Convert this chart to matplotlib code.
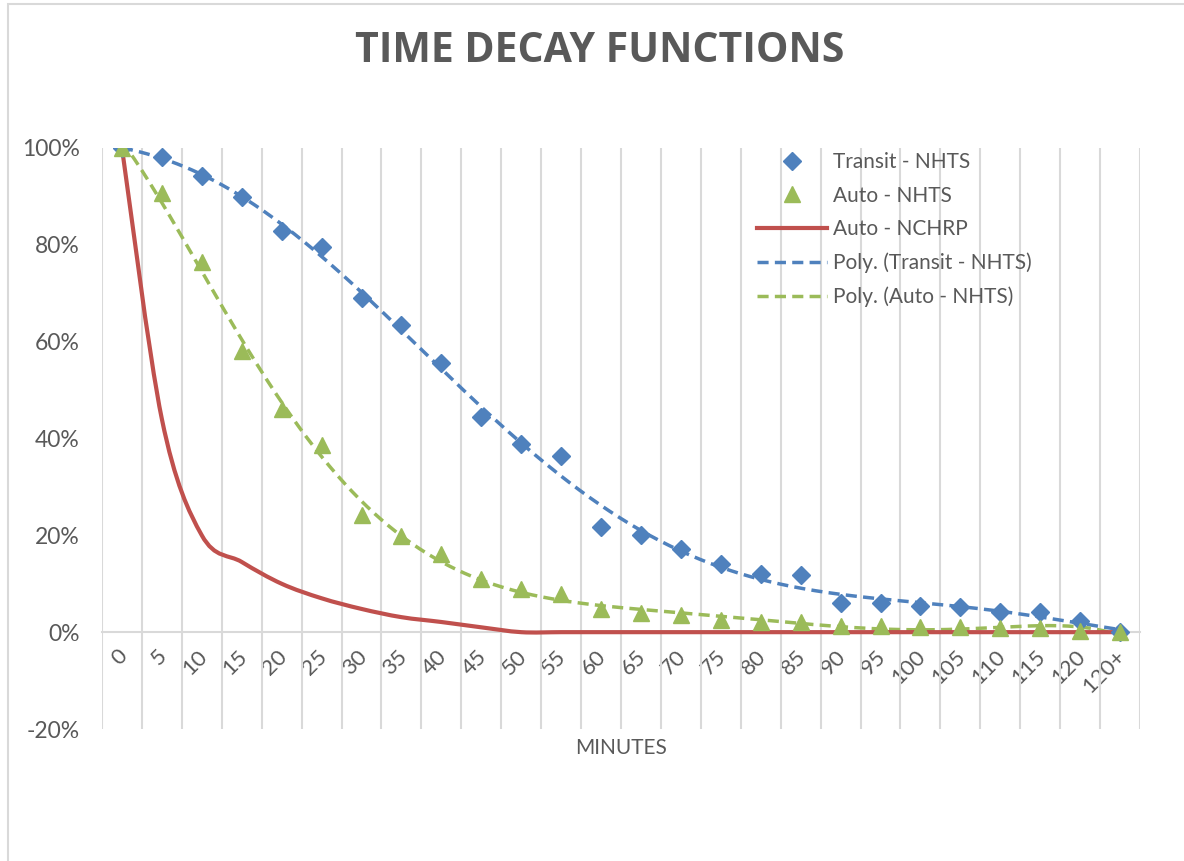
import numpy as np
import matplotlib
matplotlib.use("Agg")
import matplotlib.pyplot as plt
import matplotlib.transforms as mtransforms
from matplotlib.lines import Line2D
from matplotlib.path import Path
from matplotlib.patches import PathPatch, Rectangle

plt.rcParams['font.family'] = ['Lato', 'DejaVu Sans']

# categories (minutes)
minutes = ['0', '5', '10', '15', '20', '25', '30', '35', '40', '45', '50', '55', '60',
           '65', '70', '75', '80', '85', '90', '95', '100', '105', '110', '115', '120', '120+']

transit_nhts = [1.00, 0.982, 0.943, 0.899, 0.829, 0.795, 0.690, 0.634, 0.556, 0.444,
                0.388, 0.364, 0.217, 0.200, 0.172, 0.140, 0.121, 0.118, 0.060, 0.060,
                0.054, 0.051, 0.041, 0.041, 0.023, 0.0]

auto_nhts = [1.00, 0.907, 0.764, 0.581, 0.460, 0.387, 0.241, 0.198, 0.162, 0.110,
             0.090, 0.078, 0.047, 0.040, 0.035, 0.026, 0.022, 0.020, 0.013, 0.012,
             0.011, 0.010, 0.009, 0.008, 0.002, 0.0]

auto_nchrp = [1.00, 0.44, 0.20, 0.145, 0.10, 0.07, 0.048, 0.031, 0.021, 0.010,
              0.0, 0.0, 0.0, 0.0, 0.0, 0.0, 0.0, 0.0, 0.0, 0.0,
              0.0, 0.0, 0.0, 0.0, 0.0, 0.0]

yticks = [-0.2, 0.0, 0.2, 0.4, 0.6, 0.8, 1.0]

BLUE = '#4F81BD'
GREEN = '#9BBB59'
RED = '#C0504D'
GRID = '#D9D9D9'
TXT = '#595959'

W, H = 1184, 861
fig = plt.figure(figsize=(W / 100, H / 100), dpi=100)

# outer chart border (right and bottom edges fall outside the picture)
fig.patches.append(Rectangle((8 / W, -0.2), 1.2, 1.2 - 4 / H, transform=fig.transFigure,
                             fill=False, edgecolor=GRID, linewidth=1.5))

ax = fig.add_axes([102 / W, 1 - 729 / H, 1038 / W, 581 / H])
x = np.arange(len(minutes))

ax.set_xlim(-0.5, len(minutes) - 0.5)
ax.set_ylim(-0.2, 1.0)

# vertical gridlines between categories
ax.set_xticks(np.arange(-0.5, len(minutes), 1.0), minor=True)
ax.grid(True, which='minor', axis='x', color=GRID, linewidth=1.5)
ax.tick_params(which='minor', length=0)

for s in ['top', 'right', 'left']:
    ax.spines[s].set_visible(False)
ax.spines['bottom'].set_position(('data', 0))
ax.spines['bottom'].set_color(GRID)
ax.spines['bottom'].set_linewidth(1.5)

ax.set_xticks(x)
ax.set_xticklabels(minutes, rotation=45, ha='right', rotation_mode='anchor',
                   color=TXT, fontsize=16)
ax.tick_params(axis='x', which='major', length=0, pad=10)
shift = mtransforms.ScaledTranslation(-5 / 100, 0, fig.dpi_scale_trans)
for lbl in ax.get_xticklabels():
    lbl.set_transform(lbl.get_transform() + shift)

ax.set_yticks(yticks)
ax.set_yticklabels([f'{int(round(v * 100))}%' for v in yticks], color=TXT, fontsize=16.5)
ax.tick_params(axis='y', length=0, pad=16)

# polynomial trendlines (Excel style, x = 1..n)
xe = x + 1
xf = np.linspace(xe[0], xe[-1], 400)
pt = np.polyfit(xe, transit_nhts, 6)
pa = np.polyfit(xe, auto_nhts, 6)
dash = (0, (3.2, 1.8))
ax.plot(xf - 1, np.polyval(pt, xf), color=BLUE, lw=2.5, linestyle=dash, zorder=3)
ax.plot(xf - 1, np.polyval(pa, xf), color=GREEN, lw=2.5, linestyle=dash, zorder=3)

# smoothed NCHRP line (Catmull-Rom drawn as cubic Bezier)
pts = np.column_stack([x, auto_nchrp]).astype(float)
ext = np.vstack([pts[0], pts, pts[-1]])
verts = [tuple(pts[0])]
codes = [Path.MOVETO]
for i in range(1, len(ext) - 2):
    p0, p1, p2, p3 = ext[i - 1], ext[i], ext[i + 1], ext[i + 2]
    c1 = p1 + (p2 - p0) / 6.0
    c2 = p2 - (p3 - p1) / 6.0
    verts += [tuple(c1), tuple(c2), tuple(p2)]
    codes += [Path.CURVE4] * 3
ax.add_patch(PathPatch(Path(verts, codes), facecolor='none', edgecolor=RED,
                       lw=3, zorder=4, capstyle='round', joinstyle='round'))

ax.plot(x, transit_nhts, linestyle='none', marker='D', ms=9.5, color=BLUE,
        markeredgecolor=BLUE, zorder=5)
ax.plot(x, auto_nhts, linestyle='none', marker='^', ms=12, color=GREEN,
        markeredgecolor=GREEN, zorder=5)

handles = [
    Line2D([], [], linestyle='none', marker='D', ms=9.5, color=BLUE),
    Line2D([], [], linestyle='none', marker='^', ms=12, color=GREEN),
    Line2D([], [], color=RED, lw=3),
    Line2D([], [], color=BLUE, lw=2.5, linestyle=dash),
    Line2D([], [], color=GREEN, lw=2.5, linestyle=dash),
]
labels = ['Transit - NHTS', 'Auto - NHTS', 'Auto - NCHRP',
          'Poly. (Transit - NHTS)', 'Poly. (Auto - NHTS)']
leg = fig.legend(handles, labels, loc='upper left', bbox_to_anchor=(757 / W, 1 - 152 / H),
                 frameon=False, fontsize=15, handlelength=3.37, handletextpad=0.29,
                 labelspacing=0.65, borderaxespad=0, borderpad=0)
for t in leg.get_texts():
    t.set_color(TXT)

fig.text(600 / W, 1 - 51 / H, 'TIME DECAY FUNCTIONS', ha='center', va='center',
         fontsize=29.5, fontweight='bold', color=TXT, family=['Open Sans', 'DejaVu Sans'])
fig.text(621 / W, 1 - 748 / H, 'MINUTES', ha='center', va='center', fontsize=15, color=TXT)

fig.savefig('out.png', dpi=100)
